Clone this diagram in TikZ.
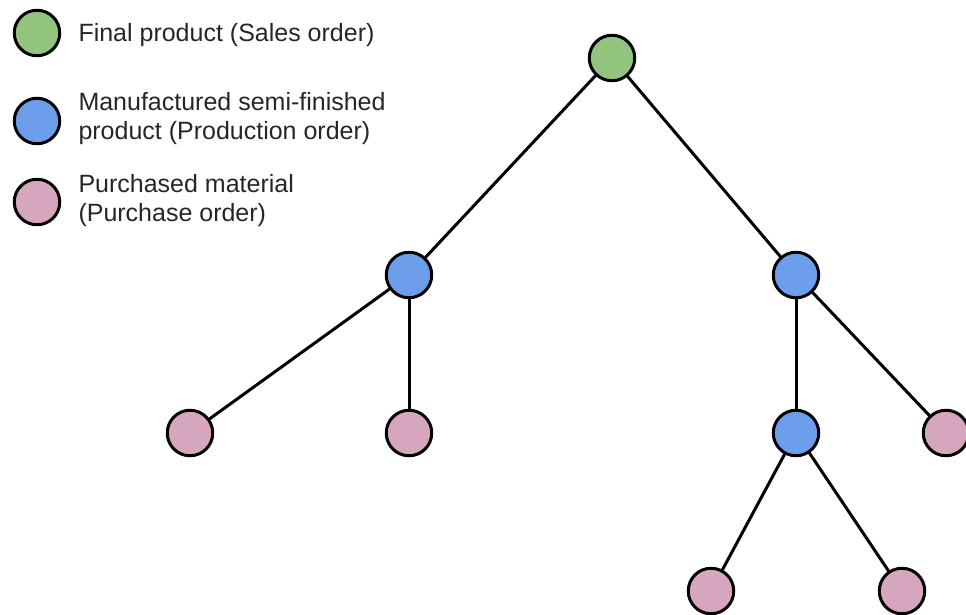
\documentclass[tikz,border=0pt]{standalone}
\usepackage{fontspec}
\setmainfont{Liberation Sans}
\usetikzlibrary{positioning}

\definecolor{finalgreen}{HTML}{93C47D}
\definecolor{semiblue}{HTML}{6D9EEB}
\definecolor{buypink}{HTML}{D5A6BD}

\begin{document}
\begin{tikzpicture}[
	x=1pt,y=-1pt,
	line width=3pt,
	line cap=round,
	line join=round,
	item/.style={circle,draw=black,minimum size=45.5pt,inner sep=0pt},
	final/.style={item,fill=finalgreen},
	semi/.style={item,fill=semiblue},
	bought/.style={item,fill=buypink},
	legendtext/.style={anchor=west,align=left,inner sep=0pt,
		font=\fontsize{25}{29}\selectfont,text=black!85}
	]
	\useasboundingbox (0,0) rectangle (966,614);
	% legend
	\node[final] (keyfinal) at (37,33) {};
	\node[semi] (keysemi) at (37,121) {};
	\node[bought] (keybought) at (37,202) {};
	\node[legendtext] (txtfinal) at (77,35) {Final product (Sales order)};
	\node[legendtext] (txtsemi) at (77,119) {Manufactured semi-finished\\product (Production order)};
	\node[legendtext] (txtbought) at (77,201) {Purchased material\\(Purchase order)};
	% tree
	\node[final] (root) at (612,58) {};
	\node[semi] (left) at (409,275) {};
	\node[semi] (right) at (796,275) {};
	\node[bought] (leftA) at (190,433) {};
	\node[bought] (leftB) at (409,433) {};
	\node[semi] (rightA) at (796,433) {};
	\node[bought] (rightB) at (946,433) {};
	\node[bought] (lowA) at (711,591) {};
	\node[bought] (lowB) at (902,591) {};
	\draw (root) -- (left);
	\draw (root) -- (right);
	\draw (left) -- (leftA);
	\draw (left) -- (leftB);
	\draw (right) -- (rightA);
	\draw (right) -- (rightB);
	\draw (rightA) -- (lowA);
	\draw (rightA) -- (lowB);
\end{tikzpicture}
\end{document}
